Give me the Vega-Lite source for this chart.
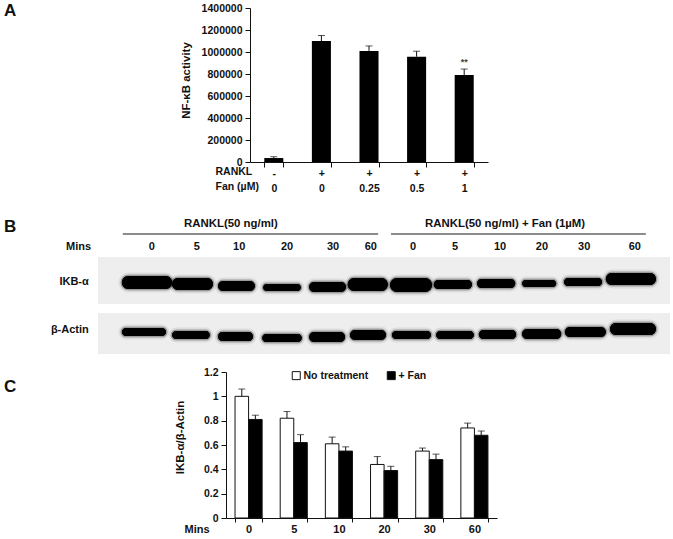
{
"$schema":"https://vega.github.io/schema/vega-lite/v6.json",
"padding":0,"spacing":0,"background":"white",
"config":{"view":{"stroke":null},"font":"Liberation Sans",
"axis":{"grid":false,"domainColor":"#111","tickColor":"#111","labelFont":"Liberation Sans","labelFontWeight":"bold","labelColor":"#111","labelFontSize":10.5,"titleFont":"Liberation Sans","titleFontWeight":"bold","titleColor":"#111","titleFontSize":11.5,"tickSize":5,"labelPadding":3},
"title":{"font":"Liberation Sans","fontWeight":"bold","fontSize":17,"color":"#111","anchor":"start","frame":"group","baseline":"alphabetic","dx":4},
"text":{"font":"Liberation Sans","fontWeight":"bold","fontSize":11,"color":"#111"}},
"datasets":{
"a":[{"group":"-|0","activity":36000,"hi":48000},{"group":"+|0","activity":1100000,"hi":1150000},{"group":"+|0.25","activity":1010000,"hi":1055000},{"group":"+|0.5","activity":957000,"hi":1007000},{"group":"+|1","activity":790000,"hi":845000}],
"sig":[{"group":"+|1","hi":845000,"sig":"**"}],
"bands":[
{"p":"IKB","from":0.52,"to":1.61,"top":71,"bot":84},{"p":"IKB","from":1.61,"to":2.5,"top":73,"bot":85},{"p":"IKB","from":2.61,"to":3.41,"top":76,"bot":86},{"p":"IKB","from":3.59,"to":4.41,"top":79,"bot":86},{"p":"IKB","from":4.59,"to":5.39,"top":77,"bot":87},{"p":"IKB","from":5.43,"to":6.3,"top":73,"bot":86},{"p":"IKB","from":6.35,"to":7.26,"top":73,"bot":87},{"p":"IKB","from":7.3,"to":8.13,"top":75,"bot":84},{"p":"IKB","from":8.24,"to":9.07,"top":74,"bot":83},{"p":"IKB","from":9.22,"to":9.96,"top":75,"bot":82},{"p":"IKB","from":10.13,"to":10.96,"top":73,"bot":81},{"p":"IKB","from":11.04,"to":12.13,"top":68,"bot":80},
{"p":"Actin","from":0.52,"to":1.48,"top":123,"bot":131},{"p":"Actin","from":1.61,"to":2.43,"top":126,"bot":134},{"p":"Actin","from":2.61,"to":3.37,"top":127,"bot":136},{"p":"Actin","from":3.57,"to":4.43,"top":129,"bot":137},{"p":"Actin","from":4.59,"to":5.37,"top":127,"bot":137},{"p":"Actin","from":5.48,"to":6.26,"top":125,"bot":135},{"p":"Actin","from":6.39,"to":7.24,"top":126,"bot":134},{"p":"Actin","from":7.35,"to":8.17,"top":126,"bot":134},{"p":"Actin","from":8.28,"to":9.09,"top":125,"bot":134},{"p":"Actin","from":9.22,"to":10.07,"top":124,"bot":134},{"p":"Actin","from":10.15,"to":11.04,"top":122,"bot":132},{"p":"Actin","from":11.13,"to":12.13,"top":118,"bot":130}],
"gels":[{"from":0,"to":12.435,"top":52,"bot":99},{"from":0,"to":12.435,"top":108,"bot":149}],
"lanes":[{"l":1.17,"m":"0"},{"l":2.15,"m":"5"},{"l":3.07,"m":"10"},{"l":4.11,"m":"20"},{"l":5.11,"m":"30"},{"l":5.93,"m":"60"},{"l":6.85,"m":"0"},{"l":7.76,"m":"5"},{"l":8.74,"m":"10"},{"l":9.65,"m":"20"},{"l":10.57,"m":"30"},{"l":11.67,"m":"60"}],
"heads":[{"l":2.89,"t":"RANKL(50 ng/ml)","from":0.54,"to":6.09},{"l":8.85,"t":"RANKL(50 ng/ml) + Fan (1µM)","from":6.37,"to":11.91}],
"rows":[{"l":-0.15,"y":42,"t":"Mins"},{"l":-0.2,"y":77,"t":"IKB-α"},{"l":-0.2,"y":125,"t":"β-Actin"}],
"c":[
{"m":"0","s":"No treatment","v":1.0,"hi":1.06},{"m":"0","s":"+ Fan","v":0.81,"hi":0.845},
{"m":"5","s":"No treatment","v":0.82,"hi":0.875},{"m":"5","s":"+ Fan","v":0.62,"hi":0.685},
{"m":"10","s":"No treatment","v":0.61,"hi":0.665},{"m":"10","s":"+ Fan","v":0.55,"hi":0.585},
{"m":"20","s":"No treatment","v":0.44,"hi":0.505},{"m":"20","s":"+ Fan","v":0.39,"hi":0.425},
{"m":"30","s":"No treatment","v":0.55,"hi":0.575},{"m":"30","s":"+ Fan","v":0.48,"hi":0.525},
{"m":"60","s":"No treatment","v":0.74,"hi":0.78},{"m":"60","s":"+ Fan","v":0.68,"hi":0.715}]
},
"vconcat":[
{"width":673,"height":205,"title":{"text":"A","offset":-20},"data":{"name":"a"},
"resolve":{"axis":{"y":"independent"}},
"encoding":{
"x":{"field":"group","type":"nominal","sort":null,"title":["RANKL","Fan (µM)"],"scale":{"range":[250,488],"paddingInner":0.6,"paddingOuter":0.3},
"axis":{"offset":-43,"tickBand":"extent","labelPadding":1,"labelAngle":0,"labelExpr":"datum.value ? split(datum.value,'|') : ''","labelLineHeight":15,"labelFontSize":10.5,"titleX":215,"titleY":12,"titleAlign":"left","titleBaseline":"alphabetic","titleFontWeight":"bold","titleFontSize":10.5,"titleLineHeight":15,"titleAngle":0}},
"y":{"type":"quantitative","scale":{"domain":[0,1400000],"range":[162,8],"nice":false}}},
"layer":[
{"mark":{"type":"rule","color":"#111"},"encoding":{"y":{"field":"activity","type":"quantitative","title":"NF-κB activity","axis":{"offset":-250,"values":[0,200000,400000,600000,800000,1000000,1200000,1400000],"format":"d","titleX":-59,"titleY":80}},"y2":{"field":"hi"}}},
{"mark":{"type":"tick","size":7,"thickness":1,"orient":"horizontal","color":"#111"},"encoding":{"y":{"field":"hi","type":"quantitative","axis":null}}},
{"mark":{"type":"bar","color":"#000"},"encoding":{"y":{"field":"activity","type":"quantitative","axis":null}}},
{"data":{"name":"sig"},"mark":{"type":"text","dy":-7,"baseline":"middle","fontSize":9,"color":"#444"},"encoding":{"y":{"field":"hi","type":"quantitative","axis":null},"text":{"field":"sig"}}}
]},
{"width":673,"height":155,"title":{"text":"B","offset":-31},
"encoding":{"x":{"type":"quantitative","scale":{"domain":[0,12.435],"range":[98,670],"nice":false,"zero":false},"axis":null},
"y":{"type":"quantitative","scale":{"domain":[0,155],"range":[0,155],"nice":false,"zero":false},"axis":null}},
"layer":[
{"data":{"name":"gels"},"mark":{"type":"rect","color":"#eeeeee"},"encoding":{"x":{"field":"from","type":"quantitative"},"x2":{"field":"to"},"y":{"field":"top","type":"quantitative"},"y2":{"field":"bot"}}},
{"data":{"name":"bands"},"mark":{"type":"rect","fill":"#000","cornerRadius":7,"stroke":"#000","strokeWidth":7,"strokeOpacity":0.07},"encoding":{"x":{"field":"from","type":"quantitative"},"x2":{"field":"to"},"y":{"field":"top","type":"quantitative"},"y2":{"field":"bot"}}},
{"data":{"name":"bands"},"mark":{"type":"rect","fill":"#000","cornerRadius":7,"stroke":"#000","strokeWidth":3,"strokeOpacity":0.3},"encoding":{"x":{"field":"from","type":"quantitative"},"x2":{"field":"to"},"y":{"field":"top","type":"quantitative"},"y2":{"field":"bot"}}},
{"data":{"name":"heads"},"mark":{"type":"rule","color":"#666","strokeWidth":1.5},"encoding":{"x":{"field":"from","type":"quantitative"},"x2":{"field":"to"},"y":{"datum":29}}},
{"data":{"name":"heads"},"mark":{"type":"text","fontSize":11.4},"encoding":{"x":{"field":"l","type":"quantitative"},"y":{"datum":19},"text":{"field":"t"}}},
{"data":{"name":"lanes"},"mark":{"type":"text","fontSize":11},"encoding":{"x":{"field":"l","type":"quantitative"},"y":{"datum":42},"text":{"field":"m"}}},
{"data":{"name":"rows"},"mark":{"type":"text","align":"right","fontSize":11},"encoding":{"x":{"field":"l","type":"quantitative"},"y":{"field":"y","type":"quantitative"},"text":{"field":"t"}}}
]},
{"width":673,"height":179,"title":{"text":"C","offset":-36},"data":{"name":"c"},
"resolve":{"axis":{"y":"independent"}},
"encoding":{
"x":{"field":"m","type":"nominal","sort":["0","5","10","20","30","60"],"title":"Mins","scale":{"range":[226,497],"paddingInner":0.4,"paddingOuter":0.2},
"axis":{"offset":-21,"tickBand":"extent","tickSize":4,"labelPadding":1,"labelAngle":0,"labelFontSize":11,"titleX":184,"titleY":14,"titleAlign":"left","titleBaseline":"alphabetic","titleAngle":0,"titleFontSize":11}},
"xOffset":{"field":"s","type":"nominal","sort":["No treatment","+ Fan"]},
"y":{"type":"quantitative","scale":{"domain":[0,1.2],"range":[158,12],"nice":false}}},
"layer":[
{"mark":{"type":"rule","color":"#111"},"encoding":{"y":{"field":"v","type":"quantitative","title":"IKB-α/β-Actin","axis":{"offset":-226,"values":[0,0.2,0.4,0.6,0.8,1,1.2],"labelExpr":"format(datum.value,'~g')","titleX":-41,"titleY":77}},"y2":{"field":"hi"}}},
{"mark":{"type":"tick","size":7,"thickness":1,"orient":"horizontal","color":"#111"},"encoding":{"y":{"field":"hi","type":"quantitative","axis":null}}},
{"mark":{"type":"bar","stroke":"#111","strokeWidth":1},"encoding":{"y":{"field":"v","type":"quantitative","axis":null},
"fill":{"field":"s","type":"nominal","scale":{"domain":["No treatment","+ Fan"],"range":["#ffffff","#000000"]},
"legend":{"orient":"none","legendX":291,"legendY":370,"direction":"horizontal","title":null,"symbolType":"square","symbolSize":64,"symbolStrokeColor":"#111","symbolStrokeWidth":1,"labelFont":"Liberation Sans","labelFontWeight":"bold","labelFontSize":10.5,"labelColor":"#111","columns":2,"columnPadding":16,"labelOffset":2}}}}
]}
]}
